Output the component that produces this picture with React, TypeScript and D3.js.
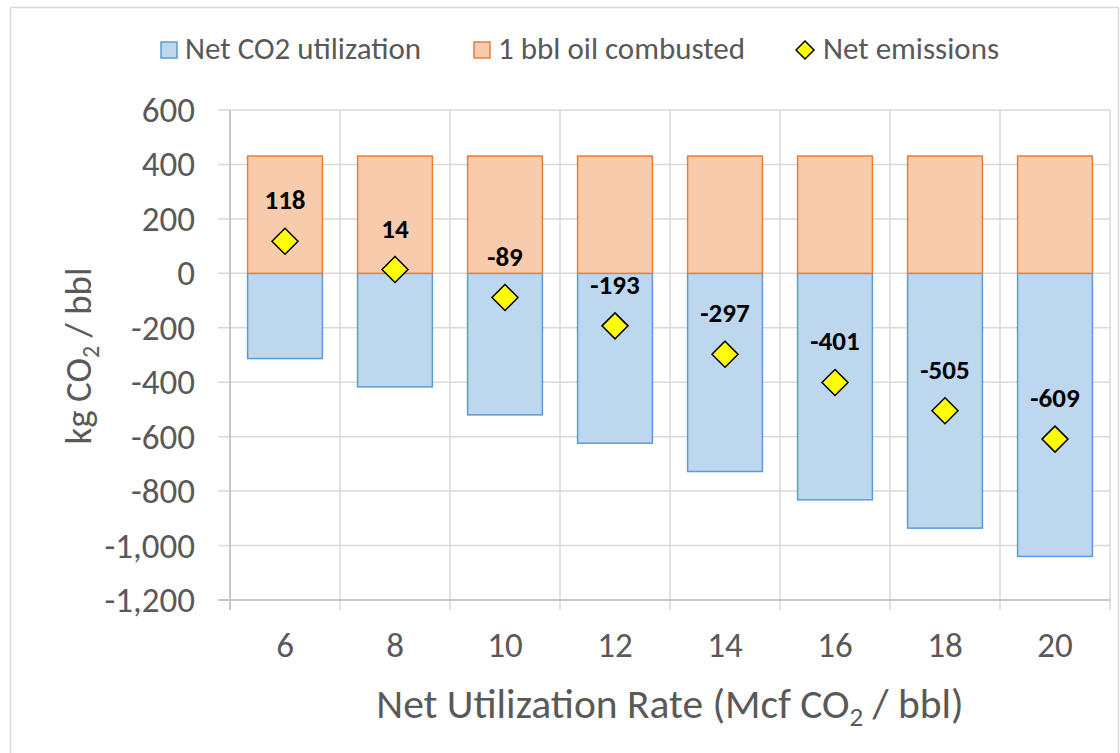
import React from 'react';
import * as d3 from 'd3';

// data
const rates = ['6', '8', '10', '12', '14', '16', '18', '20'];
const utilization = [-313, -417, -520, -624, -728, -832, -936, -1040];
const oilCombusted = [431, 431, 431, 431, 431, 431, 431, 431];
const netEmissions = [118, 14, -89, -193, -297, -401, -505, -609];
const yTicks = [600, 400, 200, 0, -200, -400, -600, -800, -1000, -1200];

const W = 1120;
const H = 753;
const margin = { left: 230, right: 10, top: 110, bottom: 153 };
const font = 'Carlito, Calibri, "Liberation Sans Narrow", "Open Sans", sans-serif';
const grey = '#595959';

const App = () => {
  const x = d3.scaleBand()
    .domain(rates)
    .range([margin.left, W - margin.right])
    .paddingInner(0.32)
    .paddingOuter(0.16);

  const y = d3.scaleLinear()
    .domain([-1200, 600])
    .range([H - margin.bottom, margin.top]);

  const step = x.step();
  const bounds = d3.range(rates.length + 1).map(i => margin.left + i * step);
  const fmt = v => d3.format(',')(v).replace('\u2212', '-');

  const diamond = (cx, cy, r) => `M${cx},${cy - r}L${cx + r},${cy}L${cx},${cy + r}L${cx - r},${cy}Z`;

  return (
    <svg width={W} height={H} style={{ position: 'absolute', left: 0, top: 0 }} fontFamily={font}>
      <rect x={0} y={0} width={W} height={H} fill="#fff" />
      <rect x={10.5} y={7.5} width={W - 12} height={H} fill="none" stroke="#d9d9d9" strokeWidth={1.5} />

      {/* legend */}
      <g fontSize={31} fill={grey}>
        <rect x={161} y={42} width={16} height={16} fill="#BDD7EE" stroke="#5B9BD5" strokeWidth={1.5} />
        <text x={185} y={59}>Net CO2 utilization</text>
        <rect x={474} y={42} width={16} height={16} fill="#F8CBAD" stroke="#ED7D31" strokeWidth={1.5} />
        <text x={498} y={59}>1 bbl oil combusted</text>
        <path d={diamond(805, 50, 9)} fill="#FFFF00" stroke="#000" strokeWidth={1.5} />
        <text x={823} y={59}>Net emissions</text>
      </g>

      {/* gridlines */}
      <g stroke="#d9d9d9" strokeWidth={1.5}>
        {yTicks.map(t => (
          <line key={t} x1={margin.left - 12} x2={W - margin.right} y1={y(t)} y2={y(t)} />
        ))}
        {bounds.map((b, i) => (
          <line key={i} x1={b} x2={b} y1={margin.top} y2={y(-1200) + 10} />
        ))}
      </g>
      <line x1={margin.left} x2={margin.left} y1={margin.top} y2={y(-1200) + 10} stroke="#bfbfbf" strokeWidth={1.5} />
      <line x1={margin.left - 12} x2={W - margin.right} y1={y(-1200)} y2={y(-1200)} stroke="#bfbfbf" strokeWidth={1.5} />

      {/* y tick labels */}
      <g fontSize={35} fill={grey} textAnchor="end">
        {yTicks.map(t => (
          <text key={t} x={195} y={y(t) + 12}>{fmt(t)}</text>
        ))}
      </g>

      {/* x tick labels */}
      <g fontSize={35} fill={grey} textAnchor="middle">
        {rates.map(r => (
          <text key={r} x={x(r) + x.bandwidth() / 2} y={657}>{r}</text>
        ))}
      </g>

      {/* bars */}
      {rates.map((r, i) => (
        <g key={r}>
          <rect x={x(r)} width={x.bandwidth()} y={y(0)} height={y(utilization[i]) - y(0)}
            fill="#BDD7EE" stroke="#5B9BD5" strokeWidth={1.5} />
          <rect x={x(r)} width={x.bandwidth()} y={y(oilCombusted[i])} height={y(0) - y(oilCombusted[i])}
            fill="#F8CBAD" stroke="#ED7D31" strokeWidth={1.5} />
        </g>
      ))}

      {/* net emissions markers + labels */}
      {rates.map((r, i) => {
        const cx = x(r) + x.bandwidth() / 2;
        const cy = y(netEmissions[i]);
        return (
          <g key={r}>
            <path d={diamond(cx, cy, 13)} fill="#FFFF00" stroke="#000" strokeWidth={1.5} />
            <text x={cx} y={cy - 32} textAnchor="middle" fontSize={27} fontWeight="bold" fill="#000">
              {netEmissions[i]}
            </text>
          </g>
        );
      })}

      {/* axis titles */}
      <text transform={`translate(91,356) rotate(-90)`} textAnchor="middle" fontSize={37} fill={grey}>
        kg CO<tspan fontSize={24} dy={8}>2</tspan><tspan dy={-8}> / bbl</tspan>
      </text>
      <text x={670} y={718} textAnchor="middle" fontSize={41.5} fill={grey}>
        Net Utilization Rate (Mcf CO<tspan fontSize={27} dy={8}>2</tspan><tspan dy={-8}> / bbl)</tspan>
      </text>
    </svg>
  );
};

export default App;
